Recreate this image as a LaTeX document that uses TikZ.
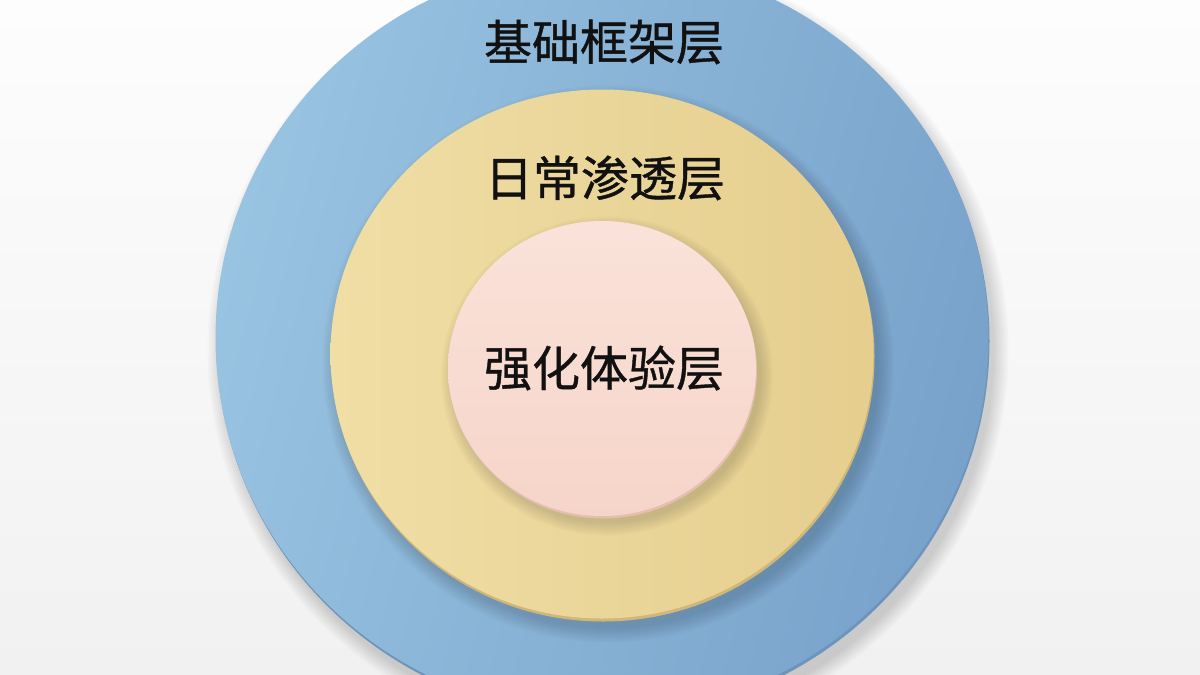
\documentclass[tikz,border=0pt]{standalone}
\usepackage{fontspec}
\newfontfamily\cjk[FakeBold=0.8]{Noto Sans CJK SC}
\usetikzlibrary{shapes.geometric}
\definecolor{bgA}{HTML}{FDFDFD}
\definecolor{bgB}{HTML}{F1F1F1}
\definecolor{blueL}{RGB}{152,195,225}
\definecolor{blueD}{RGB}{120,162,202}
\definecolor{blueRim}{RGB}{108,148,188}
\definecolor{yelL}{RGB}{240,222,165}
\definecolor{yelD}{RGB}{229,206,142}
\definecolor{yelRim}{RGB}{208,183,120}
\definecolor{pinkL}{RGB}{250,226,218}
\definecolor{pinkD}{RGB}{246,213,201}
\definecolor{pinkRim}{RGB}{230,190,177}
\definecolor{ink}{RGB}{17,17,17}
\tikzset{
  disc/.style={ellipse, inner sep=0pt, draw=none},
  lbl/.style={font=\cjk\fontsize{48}{48}\selectfont, text=ink, inner sep=0pt},
  shade/.style={fill=black, opacity=0.02}
}
\begin{document}
\begin{tikzpicture}[x=1pt,y=-1pt]
\useasboundingbox (0,0) rectangle (1200,675);
\fill[top color=bgA, bottom color=bgB] (0,0) rectangle (1200,675);
% soft shadows
\foreach \k in {0,...,7}{
  \fill[shade] (608,350) ellipse ({386.5+2*\k} and {378+2*\k});
}
\fill[blueRim] (603,341) ellipse (386.5 and 378);
\node[disc, minimum width=773pt, minimum height=756pt,
      left color=blueL, right color=blueD, shading angle=75] (outer) at (602,338) {};
\foreach \k in {0,...,7}{
  \fill[shade] (608,364) ellipse ({271.5+2*\k} and {264.5+2*\k});
}
\fill[yelRim] (603,357) ellipse (271.5 and 264.5);
\node[disc, minimum width=543pt, minimum height=529pt,
      left color=yelL, right color=yelD] (middle) at (602,354) {};
\foreach \k in {0,...,6}{
  \fill[shade] (607,376) ellipse ({154+2*\k} and {147.5+2*\k});
}
\fill[pinkRim] (603,371) ellipse (154 and 147.5);
\node[disc, minimum width=308pt, minimum height=295pt,
      top color=pinkL, bottom color=pinkD] (inner) at (602,368.5) {};
\node[lbl] (t1) at (604,42) {基础框架层};
\node[lbl] (t2) at (605,178) {日常渗透层};
\node[lbl] (t3) at (604,368) {强化体验层};
\end{tikzpicture}
\end{document}
